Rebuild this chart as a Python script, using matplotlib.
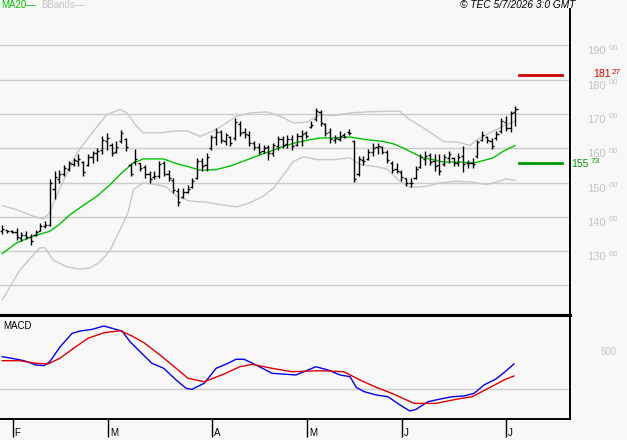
"""
Daily OHLC chart with MA20, Bollinger bands and a MACD panel.
"""

import matplotlib
matplotlib.use("Agg")
import matplotlib.pyplot as plt

plt.rcParams["font.family"] = ["Liberation Sans", "DejaVu Sans"]

# ---- data ------------------------------------------------------------------
highs = [
    137.5, 136.3, 136.3, 136.8, 135.5, 135.8, 134.9, 136.3, 138.3, 138.8,
    150.9, 153.5, 153.8, 155.2, 156.2, 157.2, 158.2, 156.2, 158.2, 159.1,
    160.1, 163.5, 164.5, 161.6, 162.0, 165.4, 163.0, 155.7, 159.8, 155.7,
    155.2, 153.3, 153.3, 156.2, 156.2, 153.8, 151.4, 148.4, 148.4, 149.4,
    151.4, 157.2, 157.2, 158.6, 164.0, 165.9, 165.4, 164.5, 163.5, 168.8,
    167.9, 165.9, 165.0, 162.0, 161.6, 161.1, 161.1, 161.6, 163.5, 163.5,
    164.0, 164.0, 164.5, 165.4, 165.0, 167.9, 171.7, 171.3, 167.4, 165.9,
    164.0, 165.0, 164.5, 165.6, 162.5, 157.7, 157.7, 159.8, 161.6, 161.6,
    160.6, 159.6, 156.2, 155.7, 153.8, 151.4, 151.4, 154.8, 158.2, 159.1,
    158.6, 158.2, 158.2, 158.4, 159.1, 157.5, 158.6, 160.6, 156.7, 157.2,
    162.5, 165.0, 163.5, 163.0, 165.0, 168.8, 169.3, 171.0, 172.4,
]
lows = [
    134.9, 135.3, 135.3, 133.4, 132.9, 133.6, 131.7, 134.4, 135.8, 136.8,
    137.3, 145.2, 149.9, 151.8, 153.3, 154.8, 154.8, 152.0, 154.8, 155.7,
    156.2, 158.2, 159.6, 157.7, 158.6, 161.6, 159.1, 151.8, 155.2, 153.3,
    151.4, 149.9, 150.9, 151.4, 151.8, 150.4, 147.0, 143.1, 145.5, 147.0,
    148.4, 150.9, 153.3, 153.3, 159.6, 161.1, 161.6, 161.1, 160.6, 162.5,
    163.5, 163.0, 160.6, 159.6, 158.2, 158.6, 156.7, 157.7, 159.6, 160.1,
    160.1, 159.6, 160.6, 160.6, 163.0, 165.9, 167.9, 166.4, 163.5, 161.6,
    161.6, 162.0, 163.0, 164.0, 150.1, 151.8, 155.2, 156.7, 157.7, 158.2,
    158.2, 155.7, 152.8, 152.8, 150.4, 148.9, 148.7, 150.9, 154.3, 155.2,
    155.2, 153.3, 152.3, 154.8, 155.7, 154.8, 154.8, 153.0, 154.3, 154.3,
    157.2, 162.0, 161.6, 159.8, 162.5, 164.5, 165.0, 164.7, 166.4,
]
opens = [
    135.8, 136.2, 135.9, 135.6, 133.8, 134.8, 134.0, 134.6, 135.9, 137.2,
    137.6, 148.0, 151.0, 152.4, 154.0, 155.5, 156.2, 156.0, 155.2, 157.4,
    158.5, 159.4, 162.0, 161.0, 159.0, 162.0, 162.6, 155.0, 156.0, 155.6,
    154.5, 152.5, 151.5, 152.0, 155.6, 152.4, 150.8, 147.6, 145.8, 147.4,
    148.8, 151.2, 156.4, 155.0, 160.2, 163.4, 164.6, 162.0, 163.2, 163.0,
    167.0, 164.6, 163.8, 161.4, 160.3, 159.2, 160.4, 158.6, 160.6, 162.8,
    161.2, 162.6, 161.0, 163.5, 164.5, 166.2, 168.6, 170.6, 167.0, 164.6,
    162.3, 162.8, 163.8, 164.8, 162.0, 152.5, 156.6, 157.0, 159.0, 160.4,
    160.4, 158.8, 155.8, 154.0, 153.2, 151.2, 150.0, 151.2, 154.5, 157.0,
    158.0, 156.2, 155.0, 155.4, 157.2, 157.2, 155.8, 157.8, 155.6, 155.6,
    157.8, 162.4, 163.4, 162.2, 162.9, 165.0, 167.8, 166.0, 170.5,
]
closes = [
    136.4, 135.8, 135.7, 134.0, 134.6, 134.2, 133.0, 135.6, 137.4, 137.5,
    149.8, 151.5, 152.6, 154.2, 155.6, 156.5, 157.0, 153.0, 157.6, 158.6,
    159.2, 162.4, 163.0, 158.6, 160.5, 164.5, 160.5, 152.6, 156.8, 154.3,
    152.6, 151.0, 152.0, 155.4, 152.4, 151.3, 147.8, 144.3, 147.2, 148.0,
    150.5, 156.3, 154.8, 157.6, 163.2, 164.6, 162.3, 163.8, 161.6, 167.6,
    164.4, 164.2, 161.5, 160.4, 159.0, 160.2, 158.6, 160.9, 162.6, 161.0,
    162.8, 160.6, 163.5, 164.2, 163.5, 166.7, 170.9, 167.4, 164.4, 162.6,
    163.0, 163.6, 163.4, 164.5, 151.0, 156.8, 156.2, 158.8, 160.2, 160.8,
    159.0, 156.5, 153.7, 153.5, 151.5, 149.8, 149.8, 154.0, 157.5, 157.8,
    156.0, 154.7, 153.5, 157.6, 158.3, 155.6, 157.6, 155.4, 155.8, 155.3,
    161.7, 163.8, 162.4, 160.6, 164.3, 168.0, 165.8, 170.2, 171.5,
]

# MA20 and Bollinger bands (bar position, value)
ma_x = [0, 3, 6.5, 10, 12, 14.3, 17, 19.9, 22.7, 25.5, 27.6, 29.7, 33.9, 36.7,
        39.5, 41.6, 45.1, 47.9, 50.7, 53.5, 56.4, 59.2, 62, 64.8, 66.9, 69.7,
        73.2, 76.7, 80.2, 82.3, 84.4, 86.5, 88.6, 90.6, 92.8, 96.3, 99.1,
        101.2, 103.3, 105.4, 107.9]
ma_y = [129.3, 132.4, 134.4, 135.8, 137.8, 140.7, 143.3, 146.0, 149.4, 153.3,
        155.7, 156.9, 156.9, 155.5, 154.5, 153.6, 153.8, 154.8, 156.2, 157.7,
        159.1, 160.6, 161.7, 162.5, 163.0, 163.0, 163.3, 162.5, 162.0, 161.3,
        160.1, 158.6, 157.2, 156.7, 156.0, 156.0, 155.7, 156.4, 157.2, 159.1,
        160.8]
ub_x = [0, 3, 6.5, 8.6, 10, 12, 15.7, 19.2, 22, 24.8, 26.2, 28.3, 29.7, 33.2,
        36, 38.8, 41.6, 44.4, 47.2, 49.3, 52.1, 55.7, 58.5, 61.3, 64.1, 66.9,
        69.7, 73.2, 76.7, 80.9, 83.7, 85.8, 89.3, 92.8, 96.3, 98.4, 100.5,
        103.3, 106.1, 107.9]
ub_y = [143.3, 142.1, 140.2, 139.4, 141.2, 148.0, 158.6, 165.0, 169.8, 171.3,
        170.3, 166.4, 164.5, 164.5, 165.0, 165.1, 163.5, 165.0, 167.4, 169.3,
        170.3, 170.6, 169.3, 167.4, 167.6, 169.8, 169.5, 170.3, 170.6, 170.8,
        170.8, 168.3, 165.4, 162.0, 161.7, 160.8, 163.0, 165.0, 166.9, 167.9]
lb_x = [0, 3.7, 7.9, 9, 10.7, 13.6, 16.4, 18.5, 20.6, 22.7, 24.8, 26.5, 27.6,
        29.7, 32.5, 34.6, 36.7, 39.5, 43, 45.8, 49.3, 52.1, 54.9, 57.1, 59.2,
        61.3, 63.4, 66.2, 69.7, 73.2, 75.3, 78.1, 80.9, 83.7, 85.8, 89.3, 92.1,
        95.6, 99.1, 101.9, 104.7, 106.1, 107.9]
lb_y = [115.8, 124.5, 131.0, 131.0, 127.4, 125.4, 124.8, 125.1, 126.9, 130.3,
        136.2, 141.4, 148.0, 149.9, 149.4, 148.7, 146.0, 144.6, 144.3, 143.6,
        142.9, 144.1, 146.0, 148.4, 152.3, 156.2, 157.5, 156.7, 156.7, 157.2,
        155.2, 154.8, 154.0, 150.4, 148.6, 148.9, 149.9, 150.4, 150.1, 149.4,
        150.4, 151.1, 150.6]

# MACD (blue) and signal (red)
macd_x = [0, 2.0, 4.6, 7.1, 8.8, 10.0, 12.2, 14.7, 16.4, 18.9, 21.4, 23.9, 25.2,
          26.9, 29.0, 31.5, 34.0, 36.6, 38.7, 39.9, 42.5, 45.0, 47.5, 49.2,
          50.9, 53.4, 56.8, 61.8, 63.5, 66.0, 68.6, 71.1, 73.2, 74.5, 76.2,
          78.7, 81.2, 83.7, 85.8, 87.1, 89.6, 92.2, 94.7, 97.2, 99.3, 101.4,
          103.9, 105.6, 107.7]
macd_y = [3.85, 3.65, 3.37, 2.86, 2.78, 3.25, 5.04, 6.63, 6.9, 7.1, 7.5, 7.1,
          6.9, 5.63, 4.44, 3.06, 2.46, 1.07, 0.08, -0.04, 0.68, 2.46, 3.06,
          3.54, 3.54, 2.86, 1.87, 1.67, 2.06, 2.65, 2.26, 1.67, 1.47, 0.2,
          -0.32, -0.71, -0.92, -1.9, -2.62, -2.42, -1.51, -1.19, -0.92, -0.83,
          -0.52, 0.48, 1.19, 1.94, 2.98]
sig_x = [0, 3.7, 7.1, 9.6, 12.1, 14.7, 18.0, 21.4, 24.8, 27.3, 29.8, 33.2, 36.6,
         39.1, 42.5, 46.7, 50.0, 52.6, 56.8, 61.0, 66.9, 71.9, 75.3, 78.7,
         82.0, 86.7, 91.3, 95.5, 98.9, 102.3, 105.6, 107.7]
sig_y = [3.37, 3.37, 3.06, 2.98, 3.65, 4.72, 6.03, 6.7, 6.94, 6.31, 5.52, 4.05,
         2.46, 1.27, 0.87, 1.79, 2.65, 2.94, 2.46, 2.06, 2.18, 2.06, 1.07, 0.2,
         -0.52, -1.71, -1.71, -1.23, -0.92, 0.08, 1.07, 1.55]

price_grid = [120, 130, 140, 150, 160, 170, 180, 190]
price_labels = ["130", "140", "150", "160", "170", "180", "190"]
resistance = 181.27
support = 155.73
month_pos = [2.2, 22.3, 44.2, 64.1, 84.2, 106.0]
month_labels = ["F", "M", "A", "M", "J", "J"]

# ---- figure ---------------------------------------------------------------
W, H = 627, 440
BG = "#f8f8f8"
LIGHT = "#c4c4c4"

fig = plt.figure(figsize=(W / 100, H / 100), dpi=100, facecolor=BG)
ax = fig.add_axes([0, 1 - 315 / H, 570 / W, 306 / H], facecolor=BG)
axm = fig.add_axes([0, 1 - 419 / H, 570 / W, 104 / H], facecolor=BG)

idx = list(range(len(highs)))
xlim = (-0.48, 119.5)

# price panel
for g in price_grid:
    ax.axhline(g, color="#cccccc", lw=1.0, zorder=0)
ax.plot(ub_x, ub_y, color="#c8c8c8", lw=1.0, zorder=1)
ax.plot(lb_x, lb_y, color="#c8c8c8", lw=1.0, zorder=1)
ax.plot(ma_x, ma_y, color="#00c000", lw=1.0, zorder=2)
ax.vlines(idx, lows, highs, color="black", lw=1.0, zorder=3)
ax.hlines(opens, [i - 0.45 for i in idx], idx, color="black", lw=1.0, zorder=3)
ax.hlines(closes, idx, [i + 0.45 for i in idx], color="black", lw=1.0, zorder=3)

ax.axhline(resistance, xmin=519 / 570, xmax=562 / 570, color="#cc0000", lw=2)
ax.axhline(support, xmin=519 / 570, xmax=562 / 570, color="#009900", lw=2)

ax.set_xlim(*xlim)
ax.set_ylim(111.4, 200.6)
ax.set_xticks([])
ax.set_yticks([])
for s in ["top", "left"]:
    ax.spines[s].set_visible(False)
ax.spines["right"].set_linewidth(1.4)
ax.spines["bottom"].set_linewidth(2.2)

ytr = ax.get_yaxis_transform()
for lab in price_labels:
    v = float(lab)
    ax.annotate(lab, xy=(587 / 570, v), xycoords=ytr, xytext=(0, -6),
                textcoords="offset pixels", ha="left", va="center",
                fontsize=8, color=LIGHT, annotation_clip=False)
    ax.annotate("00", xy=(609 / 570, v), xycoords=ytr, xytext=(0, -3),
                textcoords="offset pixels", ha="left", va="center",
                fontsize=6, color=LIGHT, annotation_clip=False)

ax.annotate("181", xy=(593 / 570, resistance), xycoords=ytr, xytext=(0, 1),
            textcoords="offset pixels", ha="left", va="center",
            fontsize=7.5, color="#cc0000", annotation_clip=False)
ax.annotate("27", xy=(612 / 570, resistance), xycoords=ytr, xytext=(0, 3),
            textcoords="offset pixels", ha="left", va="center",
            fontsize=6, color="#cc0000", annotation_clip=False)
ax.annotate("155", xy=(570 / 570, support), xycoords=ytr, xytext=(1, -1),
            textcoords="offset pixels", ha="left", va="center",
            fontsize=7.5, color="#009900", annotation_clip=False)
ax.annotate("73", xy=(591 / 570, support), xycoords=ytr, xytext=(0, 1),
            textcoords="offset pixels", ha="left", va="center",
            fontsize=6, color="#009900", annotation_clip=False)

# MACD panel
axm.axhline(0, color="#cccccc", lw=1.0, zorder=0)
axm.plot(macd_x, macd_y, color="#0000ee", lw=1.0)
axm.plot(sig_x, sig_y, color="#dd0000", lw=1.0)
axm.set_xlim(*xlim)
axm.set_ylim(-3.57, 8.81)
axm.set_yticks([])
axm.spines["left"].set_visible(False)
axm.spines["top"].set_linewidth(2.2)
axm.spines["right"].set_linewidth(1.4)
axm.spines["bottom"].set_linewidth(1.4)
axm.set_xticks(month_pos)
axm.set_xticklabels([])
axm.tick_params(axis="x", direction="out", length=13, width=1.0, color="black")
xtr = axm.get_xaxis_transform()
for pos, lab in zip(month_pos, month_labels):
    axm.annotate(lab, xy=(pos, 0), xycoords=xtr, xytext=(2, -14),
                 textcoords="offset pixels", ha="left", va="center",
                 fontsize=7, color="black", annotation_clip=False)
axm.text(3 / 570, 0.89, "MACD", transform=axm.transAxes, fontsize=7,
         color="black", ha="left", va="center")
axm.text(601 / 570, 1 - (352 - 315) / 104, "500", transform=axm.transAxes,
         fontsize=7, color=LIGHT, ha="left", va="center")

# header texts
fig.text(1 / W, 1 - 5 / H, "MA20—", color="#00c000", fontsize=7,
         ha="left", va="center")
fig.text(41 / W, 1 - 5 / H, "BBands—", color=LIGHT, fontsize=7,
         ha="left", va="center")
fig.text(575 / W, 1 - 5 / H, "© TEC 5/7/2026 3:0 GMT", color="black",
         fontsize=7.3, style="italic", ha="right", va="center")

fig.savefig("out.png", dpi=100, facecolor=BG)
